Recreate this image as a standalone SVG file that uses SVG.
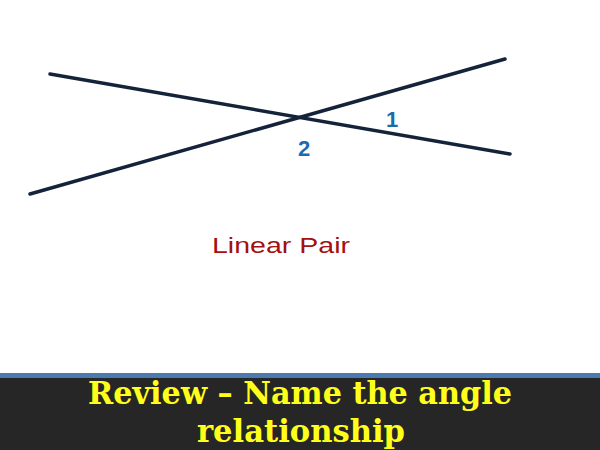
<svg xmlns="http://www.w3.org/2000/svg" width="600" height="450" viewBox="0 0 600 450">
<style>
.ln{stroke:#15233a;stroke-width:3.5;stroke-linecap:round}
.num{font-family:"Liberation Sans",Arial,sans-serif;font-weight:bold;font-size:22px;fill:#1d6bab;text-anchor:middle}
.ttl{font-family:"DejaVu Serif","Liberation Serif",serif;font-weight:bold;font-size:31px;fill:#ffff1a}
</style>
<rect width="600" height="450" fill="#fff"/>
<g id="connectors">
<line class="ln" x1="50" y1="74" x2="510" y2="154"/>
<line class="ln" x1="30" y1="194" x2="505" y2="59"/>
</g>
<g id="angle1"><text class="num" x="392" y="127">1</text></g>
<g id="angle2"><text class="num" x="304" y="156">2</text></g>
<g id="answer"><text x="212" y="253" font-family="Liberation Sans,Arial,sans-serif" font-size="22" fill="#a50f0f" textLength="138" lengthAdjust="spacingAndGlyphs">Linear Pair</text></g>
<g id="title">
<rect x="0" y="373" width="600" height="5" fill="#4a7ab0"/>
<rect x="0" y="378" width="600" height="72" fill="#262626"/>
<text class="ttl" x="88" y="404" textLength="424" lengthAdjust="spacingAndGlyphs">Review – Name the angle</text>
<text class="ttl" x="197" y="442" textLength="208" lengthAdjust="spacingAndGlyphs">relationship</text>
</g>
</svg>
